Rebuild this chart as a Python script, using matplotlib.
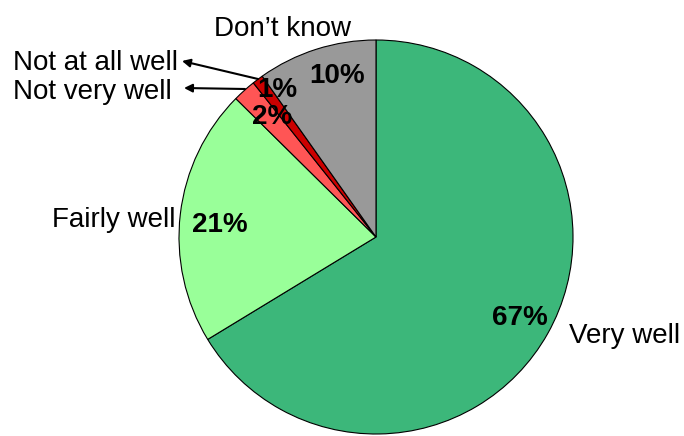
import matplotlib.pyplot as plt

categories = ["Very well", "Fairly well", "Not very well", "Not at all well", "Don\u2019t know"]
values = [66.3, 21.1, 1.9, 0.9, 9.8]
pct_labels = ["67%", "21%", "2%", "1%", "10%"]
colors = ["#3cb77a", "#99ff99", "#ff5555", "#cc0000", "#999999"]

W, H = 684, 436
plt.rcParams["font.family"] = ["Liberation Sans", "DejaVu Sans"]

fig = plt.figure(figsize=(W / 100, H / 100), dpi=100)
ax = fig.add_axes([0, 0, 1, 1])
ax.set_aspect("equal")
ax.axis("off")


def py(y):
    # image-style y (from top) to data y
    return H - y


ax.pie(values, colors=colors, startangle=90, counterclock=False,
       center=(376, py(237)), radius=197,
       wedgeprops=dict(edgecolor="black", linewidth=0.8))
ax.set_xlim(0, W)
ax.set_ylim(0, H)

fs = 20
# percentage labels
pct_pos = [(520, 318), (220, 225), (272, 117), (277, 90), (337, 76)]
for txt, (x, y) in zip(pct_labels, pct_pos):
    ax.text(x, py(y), txt, ha="center", va="center", fontsize=fs, fontweight="bold")

# category labels
ax.text(569, py(336), categories[0], ha="left", va="center", fontsize=fs)
ax.text(176, py(220), categories[1], ha="right", va="center", fontsize=fs)
ax.text(282, py(29), categories[4], ha="center", va="center", fontsize=fs)

ax.text(13, py(63), categories[3], ha="left", va="center", fontsize=fs)
ax.text(13, py(92), categories[2], ha="left", va="center", fontsize=fs)
ax.annotate("", xy=(182, py(61)), xytext=(258, py(79)),
            arrowprops=dict(arrowstyle="-|>", color="black", lw=1.5,
                            mutation_scale=12, shrinkA=0, shrinkB=0))
ax.annotate("", xy=(184, py(88)), xytext=(245, py(89)),
            arrowprops=dict(arrowstyle="-|>", color="black", lw=1.5,
                            mutation_scale=12, shrinkA=0, shrinkB=0))

fig.savefig("out.png", dpi=100)
